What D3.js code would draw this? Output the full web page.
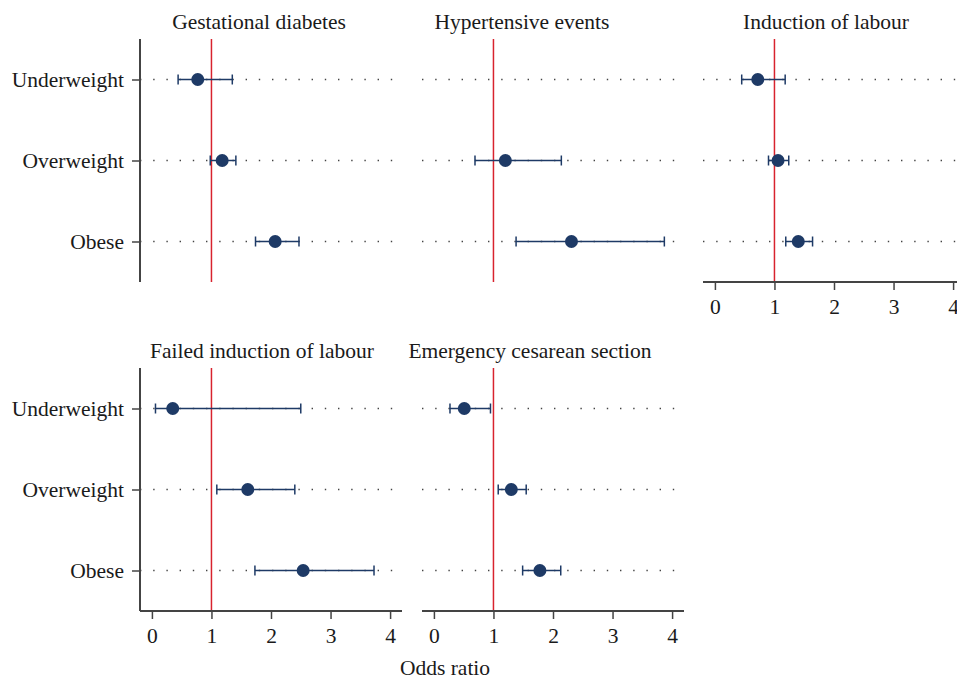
<!DOCTYPE html>
<html>
<head>
<meta charset="utf-8">
<title>Odds ratio by BMI group</title>
<script src="https://cdn.jsdelivr.net/npm/d3@7"></script>
<style>
body { margin: 0; background: #fff; }
svg { display: block; font-family: "Liberation Serif", "DejaVu Serif", serif; }
.lbl { font-size: 21.5px; fill: #1a1a1a; }
</style>
</head>
<body>
<svg id="chart" width="957" height="680"></svg>
<script>
// data
var categories = ["Underweight", "Overweight", "Obese"];
var outcomes = ["Gestational diabetes", "Hypertensive events", "Induction of labour",
                "Failed induction of labour", "Emergency cesarean section"];
var oddsRatio = [
  [0.77, 1.18, 2.07],
  [null, 1.20, 2.31],
  [0.72, 1.06, 1.40],
  [0.35, 1.61, 2.54],
  [0.51, 1.30, 1.78]
];
var ciLow = [
  [0.44, 0.98, 1.74],
  [null, 0.69, 1.38],
  [0.45, 0.90, 1.19],
  [0.06, 1.09, 1.73],
  [0.27, 1.08, 1.49]
];
var ciHigh = [
  [1.35, 1.41, 2.47],
  [null, 2.14, 3.87],
  [1.18, 1.24, 1.64],
  [2.50, 2.40, 3.73],
  [0.95, 1.55, 2.13]
];
var xTicks = [0, 1, 2, 3, 4];
var refValue = 1;

// panel layout (grid position, which axes to draw, title centre)
var panels = [
  { col: 0, row: 0, yAxis: true,  xAxis: false, titleX: 119 },
  { col: 1, row: 0, yAxis: false, xAxis: false, titleX: 100 },
  { col: 2, row: 0, yAxis: false, xAxis: true,  titleX: 123 },
  { col: 0, row: 1, yAxis: true,  xAxis: true,  titleX: 122 },
  { col: 1, row: 1, yAxis: false, xAxis: true,  titleX: 108 }
];
var colLeft = [140, 422, 703];
var rowTop = [39, 368];
var plotW = 262, plotH = 243;

var navy = "#1e3a66";
var svg = d3.select("#chart");

var x = d3.scaleLinear().domain([-0.2, 4.2]).range([0, plotW]);
var y = d3.scalePoint().domain(categories).range([0, plotH]).padding(0.5);

panels.forEach(function(p, i) {
  var g = svg.append("g")
    .attr("transform", "translate(" + colLeft[p.col] + "," + rowTop[p.row] + ")");

  // title
  g.append("text").attr("class", "lbl")
    .attr("x", p.titleX).attr("y", -10)
    .attr("text-anchor", "middle")
    .text(outcomes[i]);

  // dotted guide lines
  g.selectAll(".guide").data(categories).enter().append("line")
    .attr("x1", 0).attr("x2", plotW - 6)
    .attr("y1", function(d) { return y(d); })
    .attr("y2", function(d) { return y(d); })
    .attr("stroke", "#444").attr("stroke-width", 1.4)
    .attr("stroke-dasharray", "1.4,11.8");

  // reference line at OR = 1
  g.append("line")
    .attr("x1", x(refValue)).attr("x2", x(refValue))
    .attr("y1", 0).attr("y2", plotH)
    .attr("stroke", "#d8232e").attr("stroke-width", 1.5);

  var rows = categories.map(function(c, j) {
    return { cat: c, or: oddsRatio[i][j], lo: ciLow[i][j], hi: ciHigh[i][j] };
  }).filter(function(d) { return d.or !== null; });

  // confidence intervals
  g.selectAll(".ci").data(rows).enter().append("line")
    .attr("x1", function(d) { return x(d.lo); })
    .attr("x2", function(d) { return x(d.hi); })
    .attr("y1", function(d) { return y(d.cat); })
    .attr("y2", function(d) { return y(d.cat); })
    .attr("stroke", navy).attr("stroke-width", 1.5);

  ["lo", "hi"].forEach(function(k) {
    g.selectAll(".cap" + k).data(rows).enter().append("line")
      .attr("x1", function(d) { return x(d[k]); })
      .attr("x2", function(d) { return x(d[k]); })
      .attr("y1", function(d) { return y(d.cat) - 5; })
      .attr("y2", function(d) { return y(d.cat) + 5; })
      .attr("stroke", navy).attr("stroke-width", 1.5);
  });

  g.selectAll(".pt").data(rows).enter().append("circle")
    .attr("cx", function(d) { return x(d.or); })
    .attr("cy", function(d) { return y(d.cat); })
    .attr("r", 6.5)
    .attr("fill", navy);

  if (p.yAxis) {
    var ya = g.append("g")
      .call(d3.axisLeft(y).tickSize(8).tickPadding(8))
      .attr("font-family", null).attr("font-size", null);
    ya.select(".domain").attr("d", "M0,0V" + plotH)
      .attr("stroke", "#444").attr("stroke-width", 2);
    ya.selectAll(".tick line").attr("stroke", "#444").attr("stroke-width", 1.5);
    ya.selectAll("text").attr("class", "lbl").attr("fill", null);
  }

  if (p.xAxis) {
    var xa = g.append("g")
      .attr("transform", "translate(0," + plotH + ")")
      .call(d3.axisBottom(x).tickValues(xTicks).tickFormat(d3.format("d"))
        .tickSize(8).tickPadding(6))
      .attr("font-family", null).attr("font-size", null);
    xa.select(".domain").attr("d", "M0,0H" + plotW)
      .attr("stroke", "#444").attr("stroke-width", 2);
    xa.selectAll(".tick line").attr("stroke", "#444").attr("stroke-width", 1.5);
    xa.selectAll("text").attr("class", "lbl").attr("fill", null).attr("dy", "0.85em");
  }
});

svg.append("text").attr("class", "lbl")
  .attr("x", 445).attr("y", 675)
  .attr("text-anchor", "middle")
  .text("Odds ratio");
</script>
</body>
</html>
